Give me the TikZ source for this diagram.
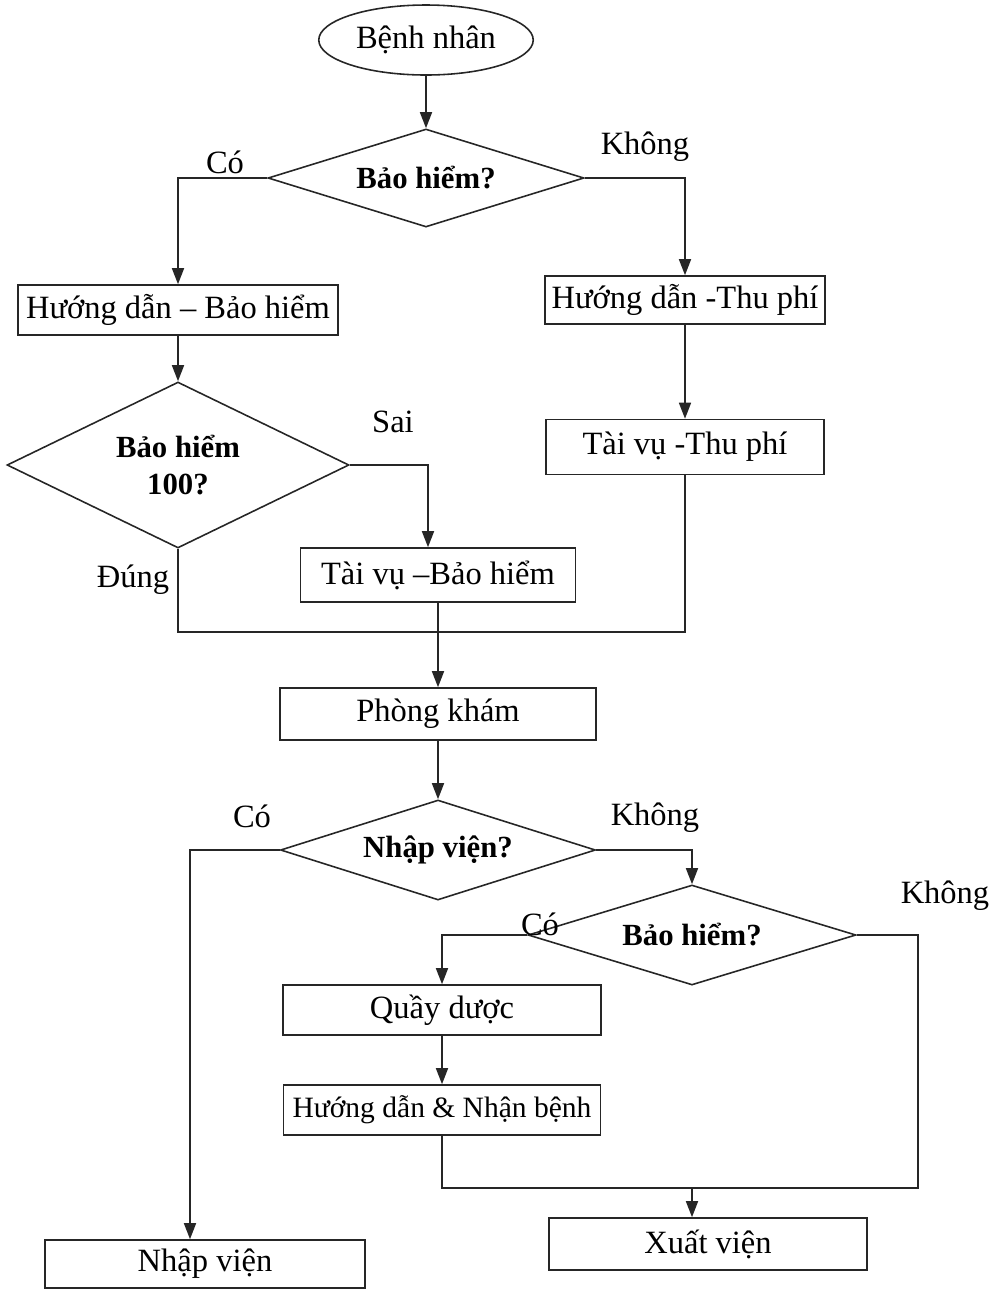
\documentclass[tikz,border=0pt]{standalone}
\usepackage{fontspec}
\setmainfont{Liberation Serif}
\usepackage{tikz}
\usetikzlibrary{positioning}
\usetikzlibrary{arrows.meta}
\usetikzlibrary{shapes.geometric}
\usepackage{xcolor}

\begin{document}
\begin{tikzpicture}[line width=0.9pt, draw=black!85,
    every node/.style={font=\fontsize{18.5}{22}\selectfont},
    boxnode/.style={draw=black!85, rectangle, inner sep=2pt},
    ask/.style={draw=black!85, diamond, aspect=3.2, inner sep=1pt, font=\fontsize{17.5}{21}\selectfont\bfseries},
    arr/.style={-{Triangle[length=0.32cm, width=0.24cm]}}]
    \useasboundingbox (0,0) rectangle (19.92,-25.82);

    % Start and first question
    \node (start) [draw=black!85, ellipse, minimum width=4.2cm, minimum height=1.4cm] at (8.52,-0.80) {Bệnh nhân};
    \node (ins1) [ask, minimum width=6.32cm, minimum height=1.96cm] at (8.52,-3.56) {Bảo hiểm?};

    % Guide boxes
    \node (guideIns) [boxnode, minimum width=6.4cm, minimum height=1.0cm] at (3.56,-6.20) {Hướng dẫn -- Bảo hiểm};
    \node (guideFee) [boxnode, minimum width=5.6cm, minimum height=0.96cm] at (13.70,-6.00) {Hướng dẫn -Thu phí};

    % Second question and cashier boxes
    \node (ins100) [ask, aspect=2, align=center, minimum width=6.84cm, minimum height=3.32cm] at (3.56,-9.30) {Bảo hiểm\\100?};
    \node (cashIns) [boxnode, minimum width=5.5cm, minimum height=1.08cm] at (8.76,-11.50) {Tài vụ --Bảo hiểm};
    \node (cashFee) [boxnode, minimum width=5.56cm, minimum height=1.1cm] at (13.70,-8.94) {Tài vụ -Thu phí};

    % Clinic and admission question
    \node (clinic) [boxnode, minimum width=6.32cm, minimum height=1.04cm] at (8.76,-14.28) {Phòng khám};
    \node (admit) [ask, minimum width=6.3cm, minimum height=2.0cm] at (8.76,-17.00) {Nhập viện?};
    \node (ins2) [ask, minimum width=6.56cm, minimum height=2.0cm] at (13.84,-18.70) {Bảo hiểm?};

    % Lower boxes
    \node (pharmacy) [boxnode, minimum width=6.36cm, minimum height=1.0cm] at (8.84,-20.20) {Quầy dược};
    \node (receive) [boxnode, minimum width=6.34cm, minimum height=1.0cm, font=\fontsize{16.8}{20}\selectfont] at (8.84,-22.20) {Hướng dẫn \& Nhận bệnh};
    \node (inpatient) [boxnode, minimum width=6.4cm, minimum height=0.96cm] at (4.10,-25.28) {Nhập viện};
    \node (discharge) [boxnode, minimum width=6.36cm, minimum height=1.04cm] at (14.16,-24.88) {Xuất viện};

    % Junction points
    \coordinate (join1) at (8.76,-12.64);
    \coordinate (join2) at (13.84,-23.76);
    \coordinate (corner) at (18.36,-23.76);

    % Arrows, top part
    \draw[arr] (start.south) -- (ins1.north);
    \draw[arr] (ins1.west) -| (guideIns.north);
    \draw[arr] (ins1.east) -| (guideFee.north);
    \draw[arr] (guideIns.south) -- (ins100.north);
    \draw[arr] (guideFee.south) -- (cashFee.north);
    \draw[arr] (ins100.east) -| ([xshift=-0.2cm]cashIns.north);
    \draw (ins100.south) |- (join1);
    \draw (cashFee.south) |- (join1);
    \draw[arr] (cashIns.south) -- (clinic.north);
    \draw[arr] (clinic.south) -- (admit.north);

    % Arrows, bottom part
    \draw[arr] (admit.west) -| ([xshift=-0.3cm]inpatient.north);
    \draw[arr] (admit.east) -| (ins2.north);
    \draw[arr] (ins2.west) -| (pharmacy.north);
    \draw[arr] (pharmacy.south) -- (receive.north);
    \draw (ins2.east) -| (corner) -- (join2);
    \draw (receive.south) |- (join2);
    \draw[arr] (join2) -- (discharge.north -| join2);

    % Branch labels
    \node (lblYes1) at (4.50,-3.24) {Có};
    \node (lblNo1) at (12.90,-2.94) {Không};
    \node (lblWrong) at (7.86,-8.44) {Sai};
    \node (lblRight) at (2.66,-11.60) {Đúng};
    \node (lblYes2) at (5.04,-16.32) {Có};
    \node (lblNo2) at (13.10,-16.36) {Không};
    \node (lblYes3) at (10.80,-18.48) {Có};
    \node (lblNo3) at (18.90,-17.92) {Không};
\end{tikzpicture}
\end{document}
